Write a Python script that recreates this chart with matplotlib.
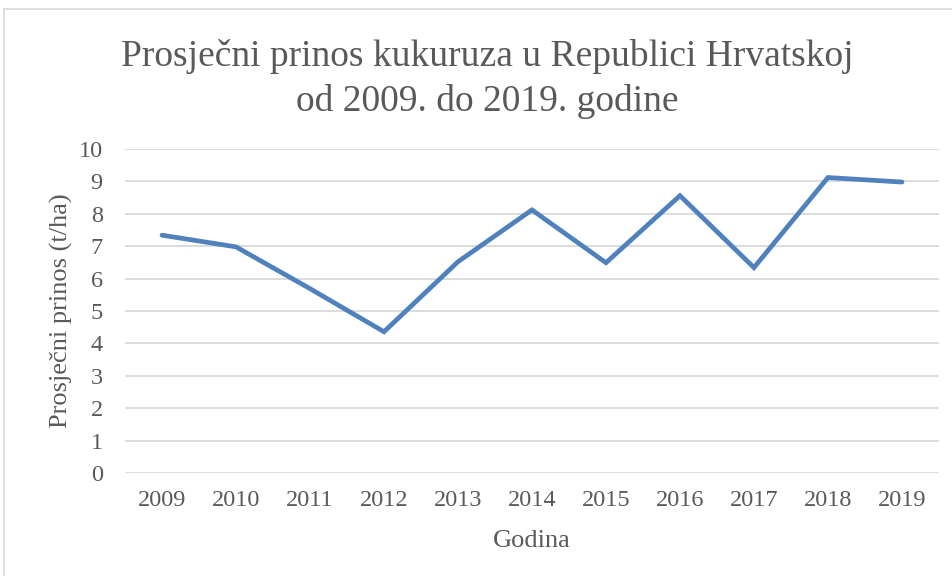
import matplotlib.pyplot as plt
from matplotlib.patches import Rectangle

plt.rcParams['font.family'] = ['Liberation Serif', 'DejaVu Serif']

# Data
godine = ['2009', '2010', '2011', '2012', '2013', '2014',
          '2015', '2016', '2017', '2018', '2019']
prinos = [7.34, 6.98, 5.69, 4.36, 6.52, 8.12, 6.49, 8.56, 6.34, 9.12, 8.98]

txt = '#595959'

fig = plt.figure(figsize=(9.52, 5.76), dpi=100)
ax = fig.add_axes([0.1313, 0.1788, 0.855, 0.5625])

x = range(len(godine))
ax.plot(x, prinos, color='#4f81bd', linewidth=3.4, solid_capstyle='round',
        solid_joinstyle='miter')

ax.set_xlim(-0.5, len(godine) - 0.5)
ax.set_ylim(0, 10)
ax.set_yticks(range(0, 11))
ax.set_xticks(list(x))
ax.set_xticklabels(godine)
ax.grid(axis='y', color='#d9d9d9', linewidth=1.3)
ax.set_axisbelow(True)
for s in ax.spines.values():
    s.set_visible(False)
ax.tick_params(length=0, labelsize=17.5, labelcolor=txt)
ax.tick_params(axis='y', pad=16)
ax.tick_params(axis='x', pad=12.5)

ax.set_xlabel('Godina', fontsize=19, color=txt, va='baseline')
ax.xaxis.set_label_coords(0.5, -0.2284)
ax.set_ylabel('Prosječni prinos (t/ha)', fontsize=19, color=txt)
ax.yaxis.set_label_coords(-0.064, 0.5)

# two-line title
fig.text(0.512, 1 - 66 / 576, 'Prosječni prinos kukuruza u Republici Hrvatskoj',
         ha='center', va='baseline', fontsize=27, color=txt)
fig.text(0.512, 1 - 111 / 576, 'od 2009. do 2019. godine',
         ha='center', va='baseline', fontsize=27, color=txt)

# outer chart border
fig.patches.append(Rectangle((4 / 952, -0.01), 1.0, 1 - 9 / 576 + 0.01,
                             transform=fig.transFigure, fill=False,
                             edgecolor='#d9d9d9', linewidth=1.2))

fig.savefig('out.png', dpi=100)
